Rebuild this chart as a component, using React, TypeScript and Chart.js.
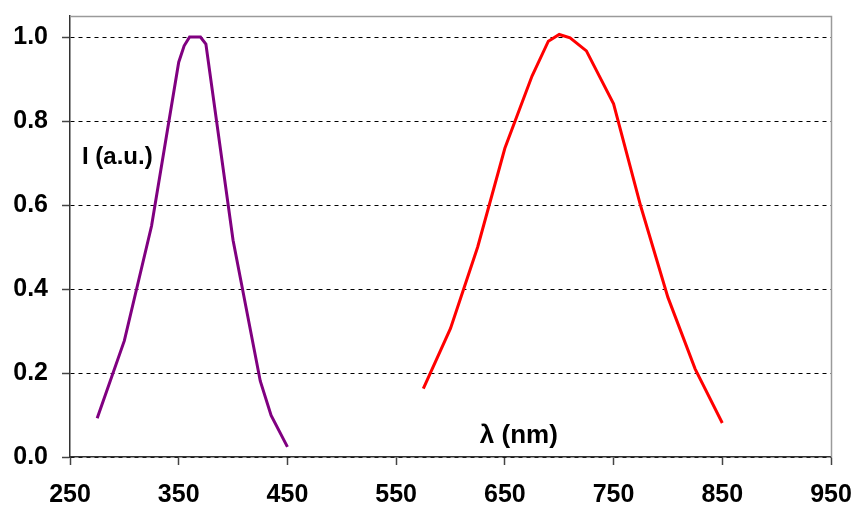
import React, { useEffect, useRef } from "react";
import { Chart, registerables } from "chart.js";

Chart.register(...registerables);

// Data
const uvWavelengths = [275, 300, 325, 350, 355, 360, 370, 375, 400, 425, 435, 450];
const uvIntensity = [0.092, 0.277, 0.55, 0.94, 0.979, 1.0, 1.0, 0.983, 0.516, 0.181, 0.099, 0.024];
const redWavelengths = [575, 600, 625, 650, 675, 690, 700, 710, 725, 750, 775, 800, 825, 850];
const redIntensity = [0.163, 0.306, 0.5, 0.735, 0.907, 0.99, 1.006, 0.998, 0.967, 0.841, 0.597, 0.38, 0.21, 0.081];

const xTicks = [250, 350, 450, 550, 650, 750, 850, 950];
const yTicks = [0, 0.2, 0.4, 0.6, 0.8, 1.0];
const xMin = 250;
const xMax = 950;
const yMin = 0;
const yMax = 1.05;

const yAxisLabel = "I (a.u.)";
const yAxisLabelPos = { x: 261, y: 0.714 };
const xAxisLabel = "λ (nm)";
const xAxisLabelPos = { x: 627, y: 0.05 };

const FONT = "'Liberation Sans', Arial, sans-serif";

export default function App() {
  const ref = useRef<HTMLCanvasElement | null>(null);

  useEffect(() => {
    if (!ref.current) return;

    const framePlugin = {
      id: "frame",
      beforeDatasetsDraw(chart: any) {
        const { ctx, chartArea } = chart;
        ctx.save();
        ctx.strokeStyle = "#9a9a9a";
        ctx.lineWidth = 1.5;
        ctx.beginPath();
        ctx.moveTo(chartArea.left, chartArea.top + 0.5);
        ctx.lineTo(chartArea.right + 0.5, chartArea.top + 0.5);
        ctx.lineTo(chartArea.right + 0.5, chartArea.bottom);
        ctx.stroke();
        ctx.restore();
      },
    };

    const labelPlugin = {
      id: "labels",
      afterDatasetsDraw(chart: any) {
        const { ctx, scales } = chart;
        ctx.save();
        ctx.fillStyle = "#000";
        ctx.textAlign = "left";
        ctx.textBaseline = "middle";
        ctx.font = `bold 24px ${FONT}`;
        ctx.fillText(yAxisLabel, scales.x.getPixelForValue(yAxisLabelPos.x), scales.y.getPixelForValue(yAxisLabelPos.y));
        ctx.font = `bold 26px ${FONT}`;
        ctx.fillText(xAxisLabel, scales.x.getPixelForValue(xAxisLabelPos.x), scales.y.getPixelForValue(xAxisLabelPos.y));
        ctx.restore();
      },
    };

    const chart = new Chart(ref.current, {
      type: "line",
      data: {
        datasets: [
          {
            data: uvWavelengths.map((x, i) => ({ x, y: uvIntensity[i] })),
            borderColor: "#800080",
            borderWidth: 3,
            pointRadius: 0,
            tension: 0,
            fill: false,
          },
          {
            data: redWavelengths.map((x, i) => ({ x, y: redIntensity[i] })),
            borderColor: "#ff0000",
            borderWidth: 3,
            pointRadius: 0,
            tension: 0,
            fill: false,
          },
        ],
      },
      options: {
        animation: false,
        responsive: false,
        devicePixelRatio: 1,
        layout: { padding: { top: 16, right: 25, left: 0, bottom: 0 } },
        plugins: {
          legend: { display: false },
          tooltip: { enabled: false },
        },
        scales: {
          x: {
            type: "linear",
            min: xMin,
            max: xMax,
            afterBuildTicks: (s: any) => {
              s.ticks = xTicks.map((value) => ({ value }));
            },
            afterFit: (s: any) => {
              s.height = 51;
              s.paddingLeft = 0;
              s.paddingRight = 0;
            },
            ticks: {
              color: "#000",
              padding: 15,
              font: { family: FONT, size: 25, weight: "bold" },
              maxRotation: 0,
              autoSkip: false,
            },
            grid: {
              drawOnChartArea: false,
              drawTicks: true,
              tickLength: 8,
              tickColor: "#444",
              tickWidth: 1.5,
            },
            border: { color: "#333", width: 1.5 },
          },
          y: {
            type: "linear",
            min: yMin,
            max: yMax,
            afterBuildTicks: (s: any) => {
              s.ticks = yTicks.map((value) => ({ value }));
            },
            afterFit: (s: any) => {
              s.width = 70;
              s.paddingTop = 0;
              s.paddingBottom = 0;
            },
            ticks: {
              color: "#000",
              padding: 14,
              font: { family: FONT, size: 25, weight: "bold" },
              callback: (v: any) => Number(v).toFixed(1),
            },
            grid: {
              color: "#000",
              lineWidth: 1,
              drawTicks: true,
              tickLength: 8,
              tickColor: "#444",
              tickWidth: 1.5,
            },
            border: { color: "#333", width: 1.5, dash: [4, 4] },
          },
        },
      },
      plugins: [framePlugin, labelPlugin],
    });

    return () => chart.destroy();
  }, []);

  return (
    <div style={{ position: "fixed", left: 0, top: 0, width: 856, height: 508, background: "#fff" }}>
      <canvas ref={ref} width={856} height={508} style={{ display: "block" }} />
    </div>
  );
}
